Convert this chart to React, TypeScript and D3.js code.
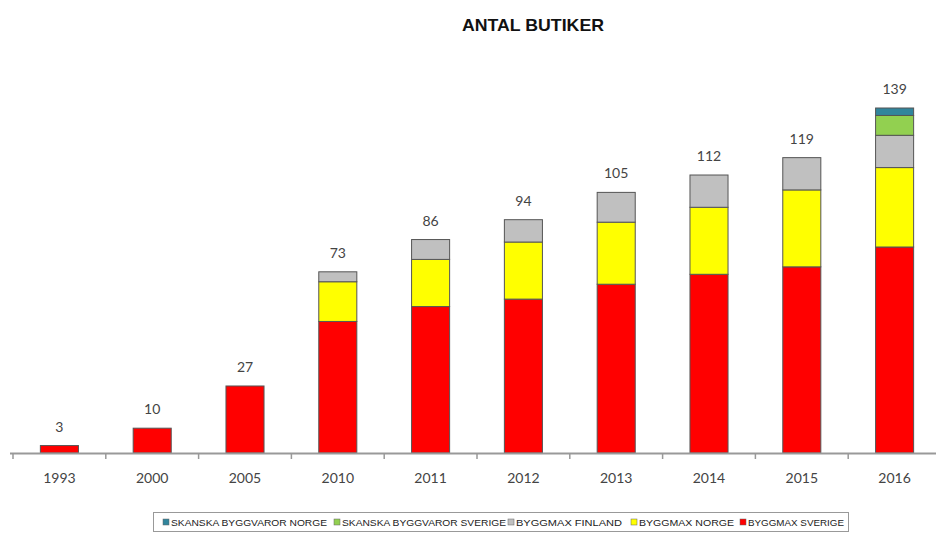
import React from "react";
import * as d3 from "d3";

const years = ["1993", "2000", "2005", "2010", "2011", "2012", "2013", "2014", "2015", "2016"];

// antal butiker per kedja och år
const byggmaxSverige = [3, 10, 27, 53, 59, 62, 68, 72, 75, 83];
const byggmaxNorge = [0, 0, 0, 16, 19, 23, 25, 27, 31, 32];
const byggmaxFinland = [0, 0, 0, 4, 8, 9, 12, 13, 13, 13];
const skanskaSverige = [0, 0, 0, 0, 0, 0, 0, 0, 0, 8];
const skanskaNorge = [0, 0, 0, 0, 0, 0, 0, 0, 0, 3];

const seriesNames = [
  "BYGGMAX SVERIGE",
  "BYGGMAX NORGE",
  "BYGGMAX FINLAND",
  "SKANSKA BYGGVAROR SVERIGE",
  "SKANSKA BYGGVAROR NORGE",
];
const seriesColors = ["#ff0000", "#ffff00", "#c0c0c0", "#92d050", "#31859c"];

const W = 936;
const H = 533;

export default function App() {
  const keys = seriesNames;
  const table = years.map((y, i) => ({
    year: y,
    [keys[0]]: byggmaxSverige[i],
    [keys[1]]: byggmaxNorge[i],
    [keys[2]]: byggmaxFinland[i],
    [keys[3]]: skanskaSverige[i],
    [keys[4]]: skanskaNorge[i],
  }));
  const stacked = d3.stack<any>().keys(keys)(table);
  const totals = table.map((r) => keys.reduce((s, k) => s + (r[k] as number), 0));

  const x = d3.scaleBand().domain(years).range([13, 941]).paddingInner(0.59).paddingOuter(0.295);
  const y = d3.scaleLinear().domain([0, 139]).range([453, 108]);
  const step = x.step();
  const bw = x.bandwidth();
  const tickXs = years.map((yr) => (x(yr) as number) + bw / 2 - step / 2).concat([941]);

  // legend, left to right (reversed order)
  const legendItems = [
    { name: keys[4], color: seriesColors[4], mx: 166, tw: 156 },
    { name: keys[3], color: seriesColors[3], mx: 337, tw: 164 },
    { name: keys[2], color: seriesColors[2], mx: 511, tw: 106 },
    { name: keys[1], color: seriesColors[1], mx: 634, tw: 95 },
    { name: keys[0], color: seriesColors[0], mx: 743, tw: 96 },
  ];

  return (
    <svg
      width={W}
      height={H}
      style={{ position: "absolute", left: 0, top: 0, background: "#fff" }}
    >
      <text
        x={533}
        y={31}
        textAnchor="middle"
        fontFamily="'Liberation Sans Narrow', 'Liberation Sans', Arial, sans-serif"
        fontWeight="bold"
        fontSize={17}
        textLength={142}
        lengthAdjust="spacingAndGlyphs"
        fill="#111"
      >
        ANTAL BUTIKER
      </text>

      {stacked.map((layer, li) => (
        <g key={layer.key} fill={seriesColors[li]}>
          {layer.map((d, i) =>
            d[1] - d[0] > 0 ? (
              <rect
                key={i}
                x={x(years[i])}
                y={y(d[1])}
                width={bw}
                height={y(d[0]) - y(d[1])}
                stroke="#555"
                strokeWidth={1}
              />
            ) : null
          )}
        </g>
      ))}

      {/* axis */}
      <line x1={10} x2={W} y1={453.5} y2={453.5} stroke="#999" strokeWidth={2} />
      {tickXs.map((tx, i) => (
        <line key={i} x1={tx} x2={tx} y1={453} y2={459} stroke="#999" strokeWidth={1.5} />
      ))}
      {years.map((yr) => (
        <text
          key={yr}
          x={(x(yr) as number) + bw / 2}
          y={483}
          textAnchor="middle"
          fontFamily="Lato, 'Open Sans', sans-serif"
          fontSize={14}
          fill="#444"
        >
          {yr}
        </text>
      ))}

      {/* totals */}
      {totals.map((t, i) => (
        <text
          key={i}
          x={(x(years[i]) as number) + bw / 2}
          y={y(t) - 14}
          textAnchor="middle"
          fontFamily="Lato, 'Open Sans', sans-serif"
          fontSize={14}
          fill="#444"
        >
          {t}
        </text>
      ))}

      {/* legend */}
      <rect x={153.5} y={512.5} width={695} height={19} fill="#fff" stroke="#999" strokeWidth={1} />
      {legendItems.map((it) => (
        <g key={it.name}>
          <rect x={it.mx - 3} y={519} width={6} height={6} fill={it.color} stroke="#666" strokeWidth={0.5} />
          <text
            x={it.mx + 5}
            y={525.5}
            fontFamily="'Liberation Sans Narrow', 'Liberation Sans', Arial, sans-serif"
            fontSize={9}
            textLength={it.tw}
            lengthAdjust="spacingAndGlyphs"
            fill="#222"
          >
            {it.name}
          </text>
        </g>
      ))}
    </svg>
  );
}
